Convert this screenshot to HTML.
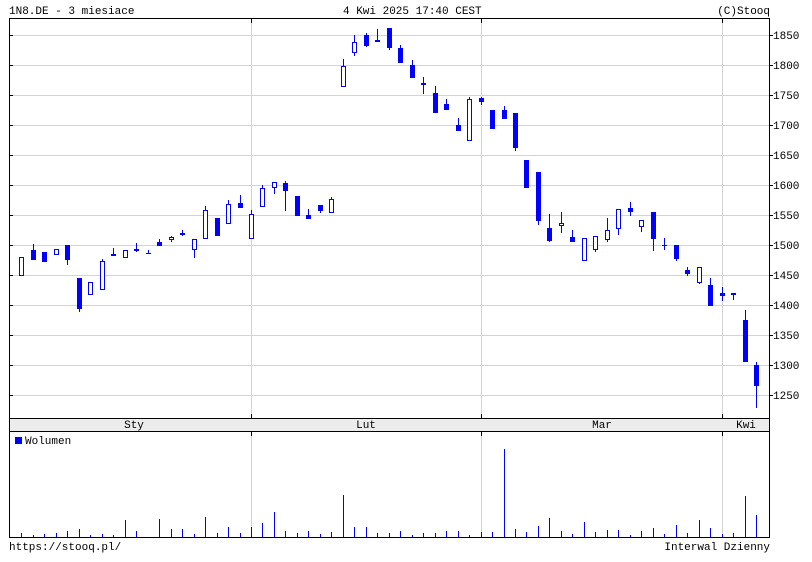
<!DOCTYPE html>
<html><head><meta charset="utf-8"><style>
html,body{margin:0;padding:0;background:#fff;}
svg{display:block;}
text{font-family:"Liberation Mono",monospace;font-size:11px;fill:#000;}
</style></head><body>
<svg width="812" height="562" viewBox="0 0 812 562" xmlns="http://www.w3.org/2000/svg" shape-rendering="crispEdges">
<rect x="0" y="0" width="812" height="562" fill="#fff"/>
<text x="9" y="14">1N8.DE - 3 miesiace</text>
<text x="343" y="14">4 Kwi 2025 17:40 CEST</text>
<text x="770" y="14" text-anchor="end">(C)Stooq</text>
<g stroke="#d3d3d3" stroke-width="1">
<line x1="10" y1="35.5" x2="769" y2="35.5"/>
<line x1="10" y1="65.5" x2="769" y2="65.5"/>
<line x1="10" y1="95.5" x2="769" y2="95.5"/>
<line x1="10" y1="125.5" x2="769" y2="125.5"/>
<line x1="10" y1="155.5" x2="769" y2="155.5"/>
<line x1="10" y1="185.5" x2="769" y2="185.5"/>
<line x1="10" y1="215.5" x2="769" y2="215.5"/>
<line x1="10" y1="245.5" x2="769" y2="245.5"/>
<line x1="10" y1="275.5" x2="769" y2="275.5"/>
<line x1="10" y1="305.5" x2="769" y2="305.5"/>
<line x1="10" y1="335.5" x2="769" y2="335.5"/>
<line x1="10" y1="365.5" x2="769" y2="365.5"/>
<line x1="10" y1="395.5" x2="769" y2="395.5"/>
<line x1="251.5" y1="19" x2="251.5" y2="418"/>
<line x1="481.5" y1="19" x2="481.5" y2="418"/>
<line x1="722.5" y1="19" x2="722.5" y2="418"/>
<line x1="251.5" y1="432" x2="251.5" y2="537"/>
<line x1="481.5" y1="432" x2="481.5" y2="537"/>
<line x1="722.5" y1="432" x2="722.5" y2="537"/>
</g>
<rect x="10" y="419" width="759" height="12" fill="#ececec"/>
<g stroke="#000" stroke-width="1" fill="none">
<rect x="9.5" y="18.5" width="760" height="400"/>
<line x1="9.5" y1="431.5" x2="769.5" y2="431.5"/>
<line x1="9.5" y1="418" x2="9.5" y2="538"/>
<line x1="769.5" y1="418" x2="769.5" y2="538"/>
<line x1="9" y1="537.5" x2="770" y2="537.5"/>
<path d="M9 35.5h4M9 65.5h4M9 95.5h4M9 125.5h4M9 155.5h4M9 185.5h4M9 215.5h4M9 245.5h4M9 275.5h4M9 305.5h4M9 335.5h4M9 365.5h4M9 395.5h4"/>
<path d="M769 35.5h4M769 65.5h4M769 95.5h4M769 125.5h4M769 155.5h4M769 185.5h4M769 215.5h4M769 245.5h4M769 275.5h4M769 305.5h4M769 335.5h4M769 365.5h4M769 395.5h4"/>
<path d="M251.5 19v4M481.5 19v4M722.5 19v4M251.5 414v4M481.5 414v4M722.5 414v4M251.5 432v4M481.5 432v4M722.5 432v4"/>
</g>
<text x="773" y="39">1850</text>
<text x="773" y="69">1800</text>
<text x="773" y="99">1750</text>
<text x="773" y="129">1700</text>
<text x="773" y="159">1650</text>
<text x="773" y="189">1600</text>
<text x="773" y="219">1550</text>
<text x="773" y="249">1500</text>
<text x="773" y="279">1450</text>
<text x="773" y="309">1400</text>
<text x="773" y="339">1350</text>
<text x="773" y="369">1300</text>
<text x="773" y="399">1250</text>
<text x="134" y="428" text-anchor="middle">Sty</text>
<text x="366" y="428" text-anchor="middle">Lut</text>
<text x="602" y="428" text-anchor="middle">Mar</text>
<text x="746" y="428" text-anchor="middle">Kwi</text>
<g fill="#0000ff">
<rect x="33" y="244" width="1" height="16"/>
<rect x="67" y="245" width="1" height="20"/>
<rect x="79" y="278" width="1" height="34"/>
<rect x="102" y="259" width="1" height="31"/>
<rect x="113" y="248" width="1" height="8"/>
<rect x="136" y="243" width="1" height="9"/>
<rect x="148" y="250" width="1" height="4"/>
<rect x="159" y="239" width="1" height="7"/>
<rect x="171" y="236" width="1" height="6"/>
<rect x="182" y="230" width="1" height="6"/>
<rect x="194" y="239" width="1" height="19"/>
<rect x="205" y="206" width="1" height="33"/>
<rect x="228" y="200" width="1" height="24"/>
<rect x="240" y="195" width="1" height="13"/>
<rect x="251" y="210" width="1" height="29"/>
<rect x="262" y="185" width="1" height="22"/>
<rect x="274" y="182" width="1" height="12"/>
<rect x="285" y="181" width="1" height="30"/>
<rect x="308" y="209" width="1" height="10"/>
<rect x="320" y="205" width="1" height="8"/>
<rect x="331" y="197" width="1" height="16"/>
<rect x="343" y="59" width="1" height="28"/>
<rect x="354" y="35" width="1" height="21"/>
<rect x="366" y="33" width="1" height="14"/>
<rect x="377" y="29" width="1" height="13"/>
<rect x="389" y="28" width="1" height="22"/>
<rect x="400" y="45" width="1" height="18"/>
<rect x="412" y="60" width="1" height="18"/>
<rect x="423" y="77" width="1" height="17"/>
<rect x="435" y="86" width="1" height="27"/>
<rect x="446" y="99" width="1" height="11"/>
<rect x="458" y="118" width="1" height="13"/>
<rect x="469" y="97" width="1" height="44"/>
<rect x="481" y="97" width="1" height="8"/>
<rect x="504" y="106" width="1" height="13"/>
<rect x="515" y="113" width="1" height="38"/>
<rect x="538" y="172" width="1" height="53"/>
<rect x="549" y="214" width="1" height="28"/>
<rect x="561" y="212" width="1" height="21"/>
<rect x="572" y="230" width="1" height="12"/>
<rect x="595" y="236" width="1" height="16"/>
<rect x="607" y="218" width="1" height="24"/>
<rect x="618" y="209" width="1" height="26"/>
<rect x="630" y="202" width="1" height="14"/>
<rect x="641" y="220" width="1" height="12"/>
<rect x="653" y="212" width="1" height="39"/>
<rect x="664" y="238" width="1" height="12"/>
<rect x="676" y="245" width="1" height="16"/>
<rect x="687" y="267" width="1" height="9"/>
<rect x="699" y="267" width="1" height="17"/>
<rect x="710" y="278" width="1" height="28"/>
<rect x="722" y="287" width="1" height="14"/>
<rect x="733" y="293" width="1" height="7"/>
<rect x="745" y="310" width="1" height="52"/>
<rect x="756" y="362" width="1" height="46"/>
</g>
<g fill="#0000ff">
<rect x="31" y="250" width="5" height="10"/>
<rect x="42" y="252" width="5" height="10"/>
<rect x="65" y="245" width="5" height="15"/>
<rect x="77" y="278" width="5" height="31"/>
<rect x="111" y="254" width="5" height="2"/>
<rect x="134" y="249" width="5" height="2"/>
<rect x="146" y="253" width="5" height="1"/>
<rect x="157" y="242" width="5" height="4"/>
<rect x="180" y="233" width="5" height="2"/>
<rect x="215" y="218" width="5" height="18"/>
<rect x="238" y="203" width="5" height="5"/>
<rect x="283" y="183" width="5" height="8"/>
<rect x="295" y="196" width="5" height="20"/>
<rect x="306" y="215" width="5" height="4"/>
<rect x="318" y="205" width="5" height="6"/>
<rect x="364" y="35" width="5" height="11"/>
<rect x="375" y="40" width="5" height="2"/>
<rect x="387" y="28" width="5" height="20"/>
<rect x="398" y="48" width="5" height="15"/>
<rect x="410" y="65" width="5" height="13"/>
<rect x="421" y="83" width="5" height="2"/>
<rect x="433" y="93" width="5" height="20"/>
<rect x="444" y="104" width="5" height="6"/>
<rect x="456" y="125" width="5" height="6"/>
<rect x="479" y="98" width="5" height="4"/>
<rect x="490" y="110" width="5" height="19"/>
<rect x="502" y="110" width="5" height="9"/>
<rect x="513" y="113" width="5" height="35"/>
<rect x="524" y="160" width="5" height="28"/>
<rect x="536" y="172" width="5" height="49"/>
<rect x="547" y="228" width="5" height="13"/>
<rect x="570" y="237" width="5" height="5"/>
<rect x="628" y="208" width="5" height="4"/>
<rect x="651" y="212" width="5" height="27"/>
<rect x="662" y="245" width="5" height="1"/>
<rect x="674" y="245" width="5" height="14"/>
<rect x="685" y="270" width="5" height="4"/>
<rect x="708" y="285" width="5" height="21"/>
<rect x="720" y="293" width="5" height="3"/>
<rect x="731" y="293" width="5" height="2"/>
<rect x="743" y="320" width="5" height="42"/>
<rect x="754" y="365" width="5" height="21"/>
</g>
<g fill="#0000ff">
<rect x="19" y="257" width="5" height="19"/>
<rect x="54" y="249" width="5" height="6"/>
<rect x="88" y="282" width="5" height="13"/>
<rect x="100" y="261" width="5" height="29"/>
<rect x="123" y="250" width="5" height="8"/>
<rect x="169" y="237" width="5" height="3"/>
<rect x="192" y="239" width="5" height="11"/>
<rect x="203" y="210" width="5" height="29"/>
<rect x="226" y="204" width="5" height="20"/>
<rect x="249" y="214" width="5" height="25"/>
<rect x="260" y="188" width="5" height="19"/>
<rect x="272" y="182" width="5" height="6"/>
<rect x="329" y="199" width="5" height="14"/>
<rect x="341" y="66" width="5" height="21"/>
<rect x="352" y="42" width="5" height="11"/>
<rect x="467" y="99" width="5" height="42"/>
<rect x="559" y="223" width="5" height="3"/>
<rect x="582" y="238" width="5" height="23"/>
<rect x="593" y="236" width="5" height="14"/>
<rect x="605" y="230" width="5" height="10"/>
<rect x="616" y="209" width="5" height="20"/>
<rect x="639" y="220" width="5" height="7"/>
<rect x="697" y="267" width="5" height="16"/>
</g>
<g fill="#fff">
<rect x="20" y="258" width="3" height="17"/>
<rect x="55" y="250" width="3" height="4"/>
<rect x="89" y="283" width="3" height="11"/>
<rect x="101" y="262" width="3" height="27"/>
<rect x="124" y="251" width="3" height="6"/>
<rect x="170" y="238" width="3" height="1"/>
<rect x="193" y="240" width="3" height="9"/>
<rect x="204" y="211" width="3" height="27"/>
<rect x="227" y="205" width="3" height="18"/>
<rect x="250" y="215" width="3" height="23"/>
<rect x="261" y="189" width="3" height="17"/>
<rect x="273" y="183" width="3" height="4"/>
<rect x="330" y="200" width="3" height="12"/>
<rect x="342" y="67" width="3" height="19"/>
<rect x="353" y="43" width="3" height="9"/>
<rect x="468" y="100" width="3" height="40"/>
<rect x="560" y="224" width="3" height="1"/>
<rect x="583" y="239" width="3" height="21"/>
<rect x="594" y="237" width="3" height="12"/>
<rect x="606" y="231" width="3" height="8"/>
<rect x="617" y="210" width="3" height="18"/>
<rect x="640" y="221" width="3" height="5"/>
<rect x="698" y="268" width="3" height="14"/>
</g>
<rect x="15" y="437" width="7" height="7" fill="#0000ff"/>
<text x="25" y="444">Wolumen</text>
<g fill="#0000ff">
<rect x="21" y="533" width="1" height="4"/>
<rect x="33" y="535" width="1" height="2"/>
<rect x="44" y="534" width="1" height="3"/>
<rect x="56" y="533" width="1" height="4"/>
<rect x="67" y="531" width="1" height="6"/>
<rect x="79" y="529" width="1" height="8"/>
<rect x="90" y="535" width="1" height="2"/>
<rect x="102" y="534" width="1" height="3"/>
<rect x="113" y="535" width="1" height="2"/>
<rect x="125" y="520" width="1" height="17"/>
<rect x="136" y="531" width="1" height="6"/>
<rect x="159" y="519" width="1" height="18"/>
<rect x="171" y="529" width="1" height="8"/>
<rect x="182" y="529" width="1" height="8"/>
<rect x="194" y="534" width="1" height="3"/>
<rect x="205" y="517" width="1" height="20"/>
<rect x="217" y="533" width="1" height="4"/>
<rect x="228" y="527" width="1" height="10"/>
<rect x="240" y="533" width="1" height="4"/>
<rect x="251" y="527" width="1" height="10"/>
<rect x="262" y="523" width="1" height="14"/>
<rect x="274" y="512" width="1" height="25"/>
<rect x="285" y="531" width="1" height="6"/>
<rect x="297" y="533" width="1" height="4"/>
<rect x="308" y="531" width="1" height="6"/>
<rect x="320" y="534" width="1" height="3"/>
<rect x="331" y="532" width="1" height="5"/>
<rect x="343" y="495" width="1" height="42"/>
<rect x="354" y="527" width="1" height="10"/>
<rect x="366" y="527" width="1" height="10"/>
<rect x="377" y="533" width="1" height="4"/>
<rect x="389" y="533" width="1" height="4"/>
<rect x="400" y="531" width="1" height="6"/>
<rect x="412" y="535" width="1" height="2"/>
<rect x="423" y="533" width="1" height="4"/>
<rect x="435" y="533" width="1" height="4"/>
<rect x="446" y="531" width="1" height="6"/>
<rect x="458" y="531" width="1" height="6"/>
<rect x="469" y="535" width="1" height="2"/>
<rect x="481" y="532" width="1" height="5"/>
<rect x="492" y="532" width="1" height="5"/>
<rect x="504" y="449" width="1" height="88"/>
<rect x="515" y="529" width="1" height="8"/>
<rect x="526" y="532" width="1" height="5"/>
<rect x="538" y="526" width="1" height="11"/>
<rect x="549" y="518" width="1" height="19"/>
<rect x="561" y="531" width="1" height="6"/>
<rect x="572" y="534" width="1" height="3"/>
<rect x="584" y="522" width="1" height="15"/>
<rect x="595" y="532" width="1" height="5"/>
<rect x="607" y="530" width="1" height="7"/>
<rect x="618" y="530" width="1" height="7"/>
<rect x="630" y="535" width="1" height="2"/>
<rect x="641" y="531" width="1" height="6"/>
<rect x="653" y="528" width="1" height="9"/>
<rect x="664" y="534" width="1" height="3"/>
<rect x="676" y="525" width="1" height="12"/>
<rect x="687" y="533" width="1" height="4"/>
<rect x="699" y="520" width="1" height="17"/>
<rect x="710" y="528" width="1" height="9"/>
<rect x="722" y="534" width="1" height="3"/>
<rect x="733" y="533" width="1" height="4"/>
<rect x="745" y="496" width="1" height="41"/>
<rect x="756" y="515" width="1" height="22"/>
</g>
<text x="9" y="550">https://stooq.pl/</text>
<text x="770" y="550" text-anchor="end">Interwal Dzienny</text>
</svg>
</body></html>
